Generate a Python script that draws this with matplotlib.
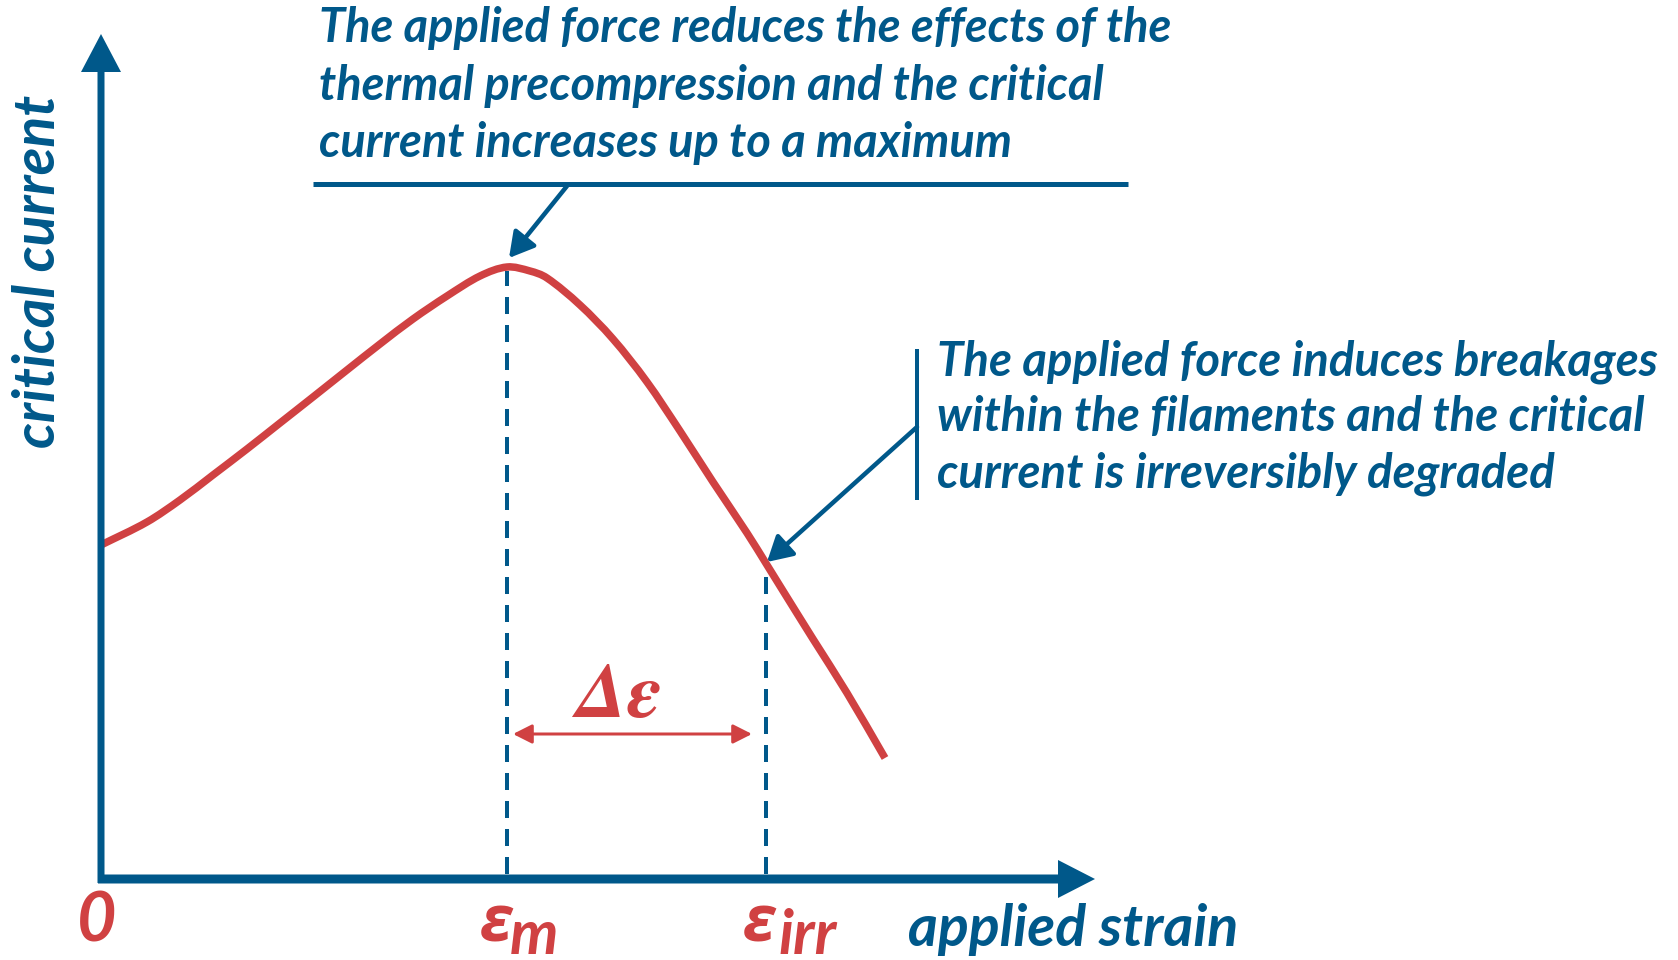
import matplotlib
matplotlib.use('Agg')
import matplotlib.pyplot as plt
from matplotlib.path import Path
from matplotlib.patches import PathPatch

BLUE = '#00588A'
RED = '#D04142'

# ---- data (arbitrary units: 1 unit ~ 1 px of the original drawing) ----
strain = [0, 46, 79, 112, 146, 179, 212, 246, 279, 312, 346, 379, 406,
          429, 446, 479, 512, 546, 579, 612, 646, 666, 679, 712, 746, 784]
current = [334, 357, 379, 404, 430, 456, 482, 509, 535, 560, 583, 603, 612,
           608, 601, 574, 540, 497, 448, 397, 346, 314, 293, 240, 186, 121]
eps_m = 406
eps_irr = 665

top_note = ["The applied force reduces the effects of the",
            "thermal precompression and the critical",
            "current increases up to a maximum"]
right_note = ["The applied force induces breakages",
              "within the filaments and the critical",
              "current is irreversibly degraded"]
x_label = "applied strain"
y_label = "critical current"
origin_label = "0"
delta_label = "Δε"

# ---- figure ----
W, H = 1678, 960
fig = plt.figure(figsize=(W / 100, H / 100), dpi=100)
ax = fig.add_axes([0, 0, 1, 1])
ox, oy = 101, 879
ax.set_xlim(-ox, W - ox)
ax.set_ylim(oy - H, oy)
ax.axis('off')
PX = 72 / 100  # points per pixel

FONT = ['Lato', 'DejaVu Sans']

# axes with arrow heads
ax.arrow(-3, 0, 1095 - ox + 3, 0, width=9, head_width=38, head_length=37,
         length_includes_head=True, color=BLUE, lw=0, zorder=4)
ax.arrow(0, -4, 0, oy - 34 + 4, width=7, head_width=40, head_length=38,
         length_includes_head=True, color=BLUE, lw=0, zorder=4)

# curve drawn as a smooth cubic (Hermite -> Bezier) path through the points
n = len(strain)
slopes = []
for i in range(n):
    a = max(i - 1, 0)
    b = min(i + 1, n - 1)
    slopes.append((current[b] - current[a]) / (strain[b] - strain[a]))
verts = [(strain[0], current[0])]
codes = [Path.MOVETO]
for i in range(n - 1):
    dx = strain[i + 1] - strain[i]
    c1 = (strain[i] + dx / 3, current[i] + slopes[i] * dx / 3)
    c2 = (strain[i + 1] - dx / 3, current[i + 1] - slopes[i + 1] * dx / 3)
    verts += [c1, c2, (strain[i + 1], current[i + 1])]
    codes += [Path.CURVE4] * 3
ax.add_patch(PathPatch(Path(verts, codes), facecolor='none', edgecolor=RED,
                       lw=7.5 * PX, capstyle='butt', joinstyle='round',
                       zorder=3))

# dashed markers
peak_y = max(current)
ax.plot([eps_m, eps_m], [5, peak_y - 4], color=BLUE, lw=4 * PX,
        dashes=(4.25, 2.75), zorder=2)
ax.plot([eps_irr, eps_irr], [5, 303], color=BLUE, lw=4 * PX,
        dashes=(4.25, 2.75), zorder=2)

# delta epsilon arrow
ax.annotate('', xy=(651, 145), xytext=(412, 145),
            arrowprops=dict(arrowstyle='<|-|>,head_length=11.5,head_width=5.8',
                            mutation_scale=1, lw=3 * PX, color=RED,
                            shrinkA=0, shrinkB=0))
ax.text(519, 162, delta_label, family='STIXGeneral', style='italic',
        weight='bold', fontsize=56, color=RED, ha='center', va='baseline')

# annotation callouts
ax.plot([212, 1027], [695, 695], color=BLUE, lw=5 * PX, solid_capstyle='butt')
ax.annotate('', xy=(408, 621), xytext=(466, 693),
            arrowprops=dict(arrowstyle='-|>,head_length=15,head_width=8.5',
                            mutation_scale=1, lw=4.5 * PX, color=BLUE,
                            shrinkA=0, shrinkB=0))
ax.plot([816, 816], [379, 530], color=BLUE, lw=4 * PX, solid_capstyle='butt')
ax.annotate('', xy=(666, 317), xytext=(816, 452),
            arrowprops=dict(arrowstyle='-|>,head_length=15,head_width=8.5',
                            mutation_scale=1, lw=4.5 * PX, color=BLUE,
                            shrinkA=0, shrinkB=0))

fig.canvas.draw()
renderer = fig.canvas.get_renderer()


def fit_width(t, target, axis='w'):
    bb = t.get_window_extent(renderer=renderer)
    cur = bb.width if axis == 'w' else bb.height
    t.set_fontsize(t.get_fontsize() * target / cur)
    return t.get_fontsize()


def block(lines, x, y0, dy, target_w):
    ts = []
    for i, s in enumerate(lines):
        ts.append(ax.text(x, y0 - i * dy, s, family=FONT, weight='bold',
                          style='italic', fontsize=30, color=BLUE,
                          ha='left', va='baseline'))
    fs = fit_width(ts[0], target_w)
    for t in ts[1:]:
        t.set_fontsize(fs)


block(top_note, 218, oy - 42, 57.5, 852)
block(right_note, 836, oy - 375, 56, 720)

xl = ax.text(807, oy - 946, x_label, family=FONT, weight='bold', style='italic',
             fontsize=36, color=BLUE, ha='left', va='baseline')
fit_width(xl, 330)

yl = ax.text(55 - ox, oy - 271, y_label, family=FONT, weight='bold',
             style='italic', fontsize=36, color=BLUE, rotation=90,
             rotation_mode='anchor', ha='center', va='baseline')
fit_width(yl, 352, axis='h')

ax.text(77 - ox, oy - 942, origin_label, family=FONT, weight='bold',
        style='italic', fontsize=49, color=RED, ha='left', va='baseline')

# strain markers on the x axis
ax.text(480 - ox, oy - 942, 'ε', family=['Open Sans', 'DejaVu Sans'],
        weight='bold', style='italic', fontsize=46, color=RED,
        ha='left', va='baseline')
ax.text(510 - ox, oy - 954, 'm', family=FONT, weight='bold', style='italic',
        fontsize=44, color=RED, ha='left', va='baseline')
ax.text(743 - ox, oy - 942, 'ε', family=['Open Sans', 'DejaVu Sans'],
        weight='bold', style='italic', fontsize=46, color=RED,
        ha='left', va='baseline')
ax.text(778 - ox, oy - 954, 'irr', family=FONT, weight='bold', style='italic',
        fontsize=44, color=RED, ha='left', va='baseline')

fig.savefig('out.png', dpi=100, facecolor='white')
